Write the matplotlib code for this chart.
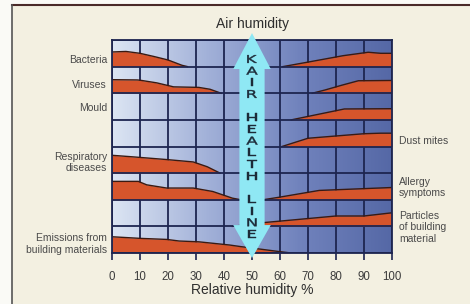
"""
Air humidity chart: health effects vs relative humidity, with the
KAIR health line at 50 %.
"""

import matplotlib
matplotlib.use("Agg")
import matplotlib.pyplot as plt
import numpy as np
from matplotlib.colors import LinearSegmentedColormap
from matplotlib.font_manager import FontProperties
from matplotlib.lines import Line2D
from matplotlib.patches import PathPatch, Polygon, Rectangle
from matplotlib.textpath import TextPath
from matplotlib.transforms import Affine2D, ScaledTranslation

# --- data -----------------------------------------------------------
# relative humidity (%) and band height (fraction of a row)
BACTERIA_LO_X = [0, 5, 10, 15, 20, 25, 27]
BACTERIA_LO_H = [0.55, 0.57, 0.50, 0.38, 0.25, 0.05, 0.0]
BACTERIA_HI_X = [61, 70, 82.5, 91.5, 96, 100]
BACTERIA_HI_H = [0.0, 0.17, 0.41, 0.54, 0.50, 0.50]

VIRUSES_LO_X = [0, 9, 10, 16, 22, 31, 35, 39]
VIRUSES_LO_H = [0.51, 0.50, 0.49, 0.39, 0.24, 0.22, 0.15, 0.0]
VIRUSES_HI_X = [71.5, 76, 82, 88, 100]
VIRUSES_HI_H = [0.0, 0.12, 0.30, 0.47, 0.48]

MOULD_HI_X = [64, 83, 100]
MOULD_HI_H = [0.0, 0.41, 0.42]

DUST_MITES_HI_X = [60.7, 70, 90, 96, 100]
DUST_MITES_HI_H = [0.0, 0.31, 0.48, 0.50, 0.50]

RESPIRATORY_LO_X = [0, 7.6, 19.5, 29, 34, 38.6]
RESPIRATORY_LO_H = [0.67, 0.61, 0.51, 0.42, 0.24, 0.0]

ALLERGY_LO_X = [0, 9.4, 12.4, 19.5, 29, 36, 43, 46]
ALLERGY_LO_H = [0.69, 0.69, 0.56, 0.44, 0.44, 0.31, 0.06, 0.0]
ALLERGY_HI_X = [54, 60, 74, 100]
ALLERGY_HI_H = [0.0, 0.10, 0.35, 0.46]

PARTICLES_HI_X = [43, 54, 80, 90, 100]
PARTICLES_HI_H = [0.0, 0.14, 0.39, 0.39, 0.51]

EMISSIONS_LO_X = [0, 10, 19.5, 24, 31, 42, 46, 60, 64]
EMISSIONS_LO_H = [0.61, 0.55, 0.51, 0.45, 0.42, 0.30, 0.24, 0.05, 0.0]

# one entry per row, top to bottom: (x, h) pairs drawn in that row
ROW_BANDS = [
    [(BACTERIA_LO_X, BACTERIA_LO_H), (BACTERIA_HI_X, BACTERIA_HI_H)],
    [(VIRUSES_LO_X, VIRUSES_LO_H), (VIRUSES_HI_X, VIRUSES_HI_H)],
    [(MOULD_HI_X, MOULD_HI_H)],
    [(DUST_MITES_HI_X, DUST_MITES_HI_H)],
    [(RESPIRATORY_LO_X, RESPIRATORY_LO_H)],
    [(ALLERGY_LO_X, ALLERGY_LO_H), (ALLERGY_HI_X, ALLERGY_HI_H)],
    [(PARTICLES_HI_X, PARTICLES_HI_H)],
    [(EMISSIONS_LO_X, EMISSIONS_LO_H)],
]

LEFT_LABELS = ["Bacteria", "Viruses", "Mould", "", "Respiratory\ndiseases",
               "", "", "Emissions from\nbuilding materials"]
RIGHT_LABELS = ["", "", "", "Dust mites", "", "Allergy\nsymptoms",
                "Particles\nof building\nmaterial", ""]

X_TICKS = [0, 10, 20, 30, 40, 50, 60, 70, 80, 90, 100]
HEALTH_LINE_X = 50
HEALTH_LINE_TEXT = "KAIR HEALTH LINE"

# --- style ----------------------------------------------------------
CREAM = "#f3f0e1"
GRID = "#1d2550"
BAND = "#d6552c"
BAND_EDGE = "#3a1a12"
ARROW = "#8fe8f4"
TEXT = "#3c3c3c"
LABEL = "#4a4a4a"

# label height above the row bottom, as a fraction of a row
LEFT_LABEL_POS = [0.26, 0.30, 0.45, 0, 0.41, 0, 0, 0.34]
RIGHT_LABEL_POS = [0, 0, 0, 0.22, 0, 0.45, -0.04, 0]

plt.rcParams["font.family"] = ["Liberation Sans", "DejaVu Sans"]

fig = plt.figure(figsize=(4.7, 3.04), dpi=100, facecolor="#fafaf6")

# scanned page background with its dark top / left edges
fig.patches.append(Rectangle((12 / 470, 0), 1, 1 - 5 / 304,
                             transform=fig.transFigure, facecolor=CREAM,
                             edgecolor="none", zorder=-2))
fig.lines.append(Line2D([12 / 470, 1], [1 - 5 / 304] * 2,
                        transform=fig.transFigure, color="#4a2a28", lw=1.5,
                        zorder=-1))
fig.lines.append(Line2D([12 / 470] * 2, [0, 1 - 5 / 304],
                        transform=fig.transFigure, color="#555555", lw=1.2,
                        zorder=-1))

ax = fig.add_axes([112 / 470, 1 - 253 / 304, 280 / 470, 213 / 304])
ax.set_zorder(1)
n_rows = len(ROW_BANDS)
ax.set_xlim(0, 100)
ax.set_ylim(0, n_rows)

# blue gradient, light on the dry side, dark on the humid side
cmap = LinearSegmentedColormap.from_list(
    "hum", ["#dce5f3", "#a3b2d9", "#7183bd", "#5568a6"])
grad = np.linspace(0, 1, 256).reshape(1, -1)
ax.imshow(grad, extent=[0, 100, 0, n_rows], aspect="auto", cmap=cmap,
          zorder=0)

for x in X_TICKS:
    ax.axvline(x, color=GRID, lw=1.3, zorder=1)

for i, bands in enumerate(ROW_BANDS):
    base = n_rows - 1 - i
    for xs, hs in bands:
        top = base + np.array(hs)
        ax.fill_between(xs, base, top, color=BAND, lw=0, zorder=2)
        ax.plot(xs, top, color=BAND_EDGE, lw=1.0, zorder=3)
    if LEFT_LABELS[i]:
        ax.text(-1.8, base + LEFT_LABEL_POS[i], LEFT_LABELS[i],
                ha="right", va="center", fontsize=7.5, color=LABEL,
                linespacing=1.15)
    if RIGHT_LABELS[i]:
        ax.text(102.5, base + RIGHT_LABEL_POS[i], RIGHT_LABELS[i],
                ha="left", va="center", fontsize=7.5, color=LABEL,
                linespacing=1.15)

for y in range(n_rows + 1):
    ax.axhline(y, color=GRID, lw=1.3, zorder=4)

for s in ax.spines.values():
    s.set_color(GRID)
    s.set_linewidth(1.3)
    s.set_zorder(4)

ax.set_xticks(X_TICKS)
ax.set_yticks([])
ax.tick_params(axis="x", length=5, width=1.2, color=GRID, pad=8,
               labelsize=8.3, labelcolor=TEXT)

# KAIR health line: double-headed arrow reaching above the plot
shaft, head = 4.5, 6.7
y_top, y_head_top = 8.26, 6.91
y_bot, y_head_bot = -0.19, 1.05
c = HEALTH_LINE_X
arrow = Polygon([
    (c, y_top), (c + head, y_head_top), (c + shaft, y_head_top),
    (c + shaft, y_head_bot), (c + head, y_head_bot), (c, y_bot),
    (c - head, y_head_bot), (c - shaft, y_head_bot),
    (c - shaft, y_head_top), (c - head, y_head_top)],
    closed=True, facecolor=ARROW, edgecolor="none", zorder=5,
    clip_on=False)
ax.add_patch(arrow)

# stacked, horizontally stretched capitals down the arrow
fp = FontProperties(family="DejaVu Sans", weight="normal")
cap_px = 7.8          # letter height in pixels
stretch = 1.55        # extended letter shapes
unit = cap_px / 0.729
step = 0.438
for k, ch in enumerate(HEALTH_LINE_TEXT):
    if ch == " ":
        continue
    tp = TextPath((0, 0), ch, size=1, prop=fp)
    ext = tp.get_extents()
    cx = (ext.x0 + ext.x1) / 2
    tr = (Affine2D().translate(-cx, -0.729 / 2)
          .scale(unit * stretch, unit)
          + ScaledTranslation(c, 7.286 - k * step, ax.transData))
    ax.add_patch(PathPatch(tp, transform=tr, facecolor="#1c2a38",
                           edgecolor="#1c2a38", lw=0.3, zorder=6,
                           clip_on=False))

fig.text(252 / 470, 1 - 24 / 304, "Air humidity", ha="center",
         va="center", fontsize=10, color="#2e2e2e")
fig.text(252 / 470, 1 - 290 / 304, "Relative humidity %", ha="center",
         va="center", fontsize=10, color="#2e2e2e")

fig.savefig("out.png", dpi=100, facecolor=fig.get_facecolor())
